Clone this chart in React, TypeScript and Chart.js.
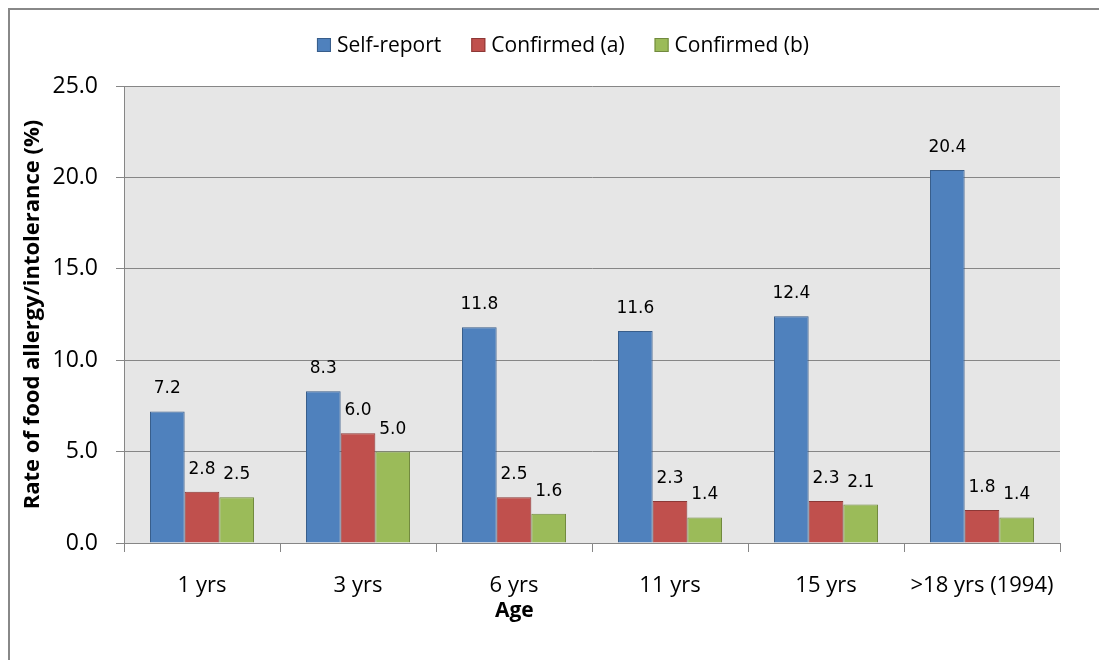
import React, { useEffect, useRef } from "react";
import { Chart, registerables } from "chart.js";

Chart.register(...registerables);

const categories = ["1 yrs", "3 yrs", "6 yrs", "11 yrs", "15 yrs", ">18 yrs (1994)"];
const seriesNames = ["Self-report", "Confirmed (a)", "Confirmed (b)"];
const selfReport = [7.2, 8.3, 11.8, 11.6, 12.4, 20.4];
const confirmedA = [2.8, 6.0, 2.5, 2.3, 2.3, 1.8];
const confirmedB = [2.5, 5.0, 1.6, 1.4, 2.1, 1.4];
const fillColors = ["#4F81BD", "#C0504D", "#9BBB59"];
const edgeColors = ["#385D8A", "#8C3836", "#71893F"];
const yTitle = "Rate of food allergy/intolerance (%)";
const xTitle = "Age";
const yMin = 0;
const yMax = 25;
const yStep = 5;

const FONT = "'Open Sans', 'Liberation Sans', sans-serif";
const GRID = "#868686";

const plotBg = {
  id: "plotBg",
  beforeDraw(chart: any) {
    const { ctx, chartArea: a } = chart;
    ctx.save();
    ctx.fillStyle = "#E6E6E6";
    ctx.fillRect(a.left, a.top, a.right - a.left, a.bottom - a.top);
    ctx.restore();
  },
};

const dataLabels = {
  id: "dataLabels",
  afterDatasetsDraw(chart: any) {
    const { ctx } = chart;
    ctx.save();
    ctx.font = "17px 'DejaVu Sans', sans-serif";
    ctx.fillStyle = "#000";
    ctx.textAlign = "center";
    ctx.textBaseline = "alphabetic";
    chart.data.datasets.forEach((ds: any, i: number) => {
      const meta = chart.getDatasetMeta(i);
      meta.data.forEach((bar: any, j: number) => {
        const v = ds.data[j] as number;
        ctx.fillText(v.toFixed(1), bar.x, bar.y - 18);
      });
    });
    ctx.restore();
  },
};

const customLegend = {
  id: "customLegend",
  afterDraw(chart: any) {
    const { ctx } = chart;
    ctx.save();
    ctx.font = `21px ${FONT}`;
    const box = 14;
    const gapText = 6;
    const gapItem = 30;
    const widths = seriesNames.map((n) => ctx.measureText(n).width);
    const total =
      widths.reduce((s, w) => s + box + gapText + w, 0) + gapItem * (seriesNames.length - 1);
    const cx = chart.width / 2 + 8.5;
    const cy = 35;
    let x = cx - total / 2;
    ctx.textBaseline = "middle";
    ctx.textAlign = "left";
    seriesNames.forEach((n, i) => {
      ctx.fillStyle = fillColors[i];
      ctx.fillRect(x, cy - box / 2, box, box);
      ctx.strokeStyle = edgeColors[i];
      ctx.lineWidth = 1;
      ctx.strokeRect(x + 0.5, cy - box / 2 + 0.5, box - 1, box - 1);
      ctx.fillStyle = "#000";
      ctx.fillText(n, x + box + gapText, cy + 1);
      x += box + gapText + widths[i] + gapItem;
    });
    ctx.restore();
  },
};

const xTitlePlugin = {
  id: "xTitlePlugin",
  afterDraw(chart: any) {
    const { ctx, chartArea: a } = chart;
    ctx.save();
    ctx.font = `bold 21px ${FONT}`;
    ctx.fillStyle = "#000";
    ctx.textAlign = "center";
    ctx.textBaseline = "middle";
    ctx.fillText(xTitle, a.left + (a.right - a.left) * 0.417, a.bottom + 68);
    ctx.restore();
  },
};

export default function App() {
  const ref = useRef<HTMLCanvasElement | null>(null);

  useEffect(() => {
    if (!ref.current) return;
    const series = [selfReport, confirmedA, confirmedB];
    const chart = new Chart(ref.current, {
      type: "bar",
      data: {
        labels: categories,
        datasets: series.map((d, i) => ({
          label: seriesNames[i],
          data: d,
          backgroundColor: fillColors[i],
          borderColor: edgeColors[i],
          borderWidth: 1,
          categoryPercentage: 0.667,
          barPercentage: 1,
        })),
      },
      options: {
        responsive: false,
        maintainAspectRatio: false,
        animation: false,
        devicePixelRatio: 1,
        layout: { padding: { left: 0, right: 39, top: 76, bottom: 0 } },
        plugins: {
          legend: { display: false },
          tooltip: { enabled: false },
        },
        scales: {
          x: {
            grid: {
              display: true,
              drawOnChartArea: false,
              drawTicks: true,
              tickLength: 9,
              color: GRID,
              offset: true,
            },
            border: { display: true, color: GRID },
            ticks: {
              font: { family: FONT, size: 22 },
              color: "#000",
              padding: 21,
              maxRotation: 0,
              autoSkip: false,
            },
            afterFit: (s: any) => {
              s.height = 117;
            },
          },
          y: {
            min: yMin,
            max: yMax,
            grid: { color: GRID, tickLength: 8, lineWidth: 1 },
            border: { display: true, color: GRID },
            ticks: {
              stepSize: yStep,
              font: { family: FONT, size: 23 },
              color: "#000",
              padding: 18,
              callback: (v: any) => Number(v).toFixed(1),
            },
            title: {
              display: true,
              text: yTitle,
              font: { family: FONT, size: 22, weight: "bold" },
              color: "#000",
              padding: { top: 10, bottom: 0 },
            },
            afterFit: (s: any) => {
              s.width = 114;
            },
          },
        },
      },
      plugins: [plotBg, dataLabels, customLegend, xTitlePlugin],
    });
    return () => chart.destroy();
  }, []);

  return (
    <div
      style={{
        position: "fixed",
        left: 8,
        top: 8,
        width: 1089,
        height: 650,
        borderLeft: "2px solid #888",
        borderTop: "2px solid #888",
        overflow: "hidden",
      }}
    >
      <canvas ref={ref} width={1089} height={650} style={{ display: "block" }} />
    </div>
  );
}
